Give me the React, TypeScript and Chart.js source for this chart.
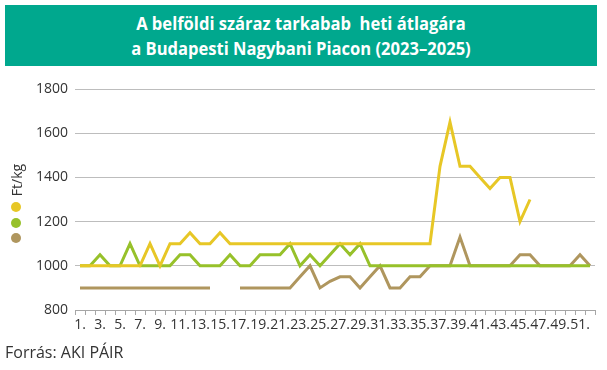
import React, { useEffect, useRef } from "react";
import { Chart, registerables } from "chart.js";

Chart.register(...registerables);

const weeks = [
  "1.", "2.", "3.", "4.", "5.", "6.", "7.", "8.", "9.", "10.",
  "11.", "12.", "13.", "14.", "15.", "16.", "17.", "18.", "19.", "20.",
  "21.", "22.", "23.", "24.", "25.", "26.", "27.", "28.", "29.", "30.",
  "31.", "32.", "33.", "34.", "35.", "36.", "37.", "38.", "39.", "40.",
  "41.", "42.", "43.", "44.", "45.", "46.", "47.", "48.", "49.", "50.",
  "51.", "52.",
];

const yellowSeries: (number | null)[] = [
  1000, 1000, 1000, 1000, 1000, 1000, 1000, 1100, 1000, 1100,
  1100, 1150, 1100, 1100, 1150, 1100, 1100, 1100, 1100, 1100,
  1100, 1100, 1100, 1100, 1100, 1100, 1100, 1100, 1100, 1100,
  1100, 1100, 1100, 1100, 1100, 1100, 1450, 1650, 1450, 1450,
  1400, 1350, 1400, 1400, 1200, 1300, null, null, null, null,
  null, null,
];

const greenSeries: (number | null)[] = [
  1000, 1000, 1050, 1000, 1000, 1100, 1000, 1000, 1000, 1000,
  1050, 1050, 1000, 1000, 1000, 1050, 1000, 1000, 1050, 1050,
  1050, 1100, 1000, 1050, 1000, 1050, 1100, 1050, 1100, 1000,
  1000, 1000, 1000, 1000, 1000, 1000, 1000, 1000, 1000, 1000,
  1000, 1000, 1000, 1000, 1000, 1000, 1000, 1000, 1000, 1000,
  1000, 1000,
];

const brownSeries: (number | null)[] = [
  900, 900, 900, 900, 900, 900, 900, 900, 900, 900,
  900, 900, 900, 900, null, null, 900, 900, 900, 900,
  900, 900, 950, 1000, 900, 930, 950, 950, 900, 950,
  1000, 900, 900, 950, 950, 1000, 1000, 1000, 1130, 1000,
  1000, 1000, 1000, 1000, 1050, 1050, 1000, 1000, 1000, 1000,
  1050, 1000,
];

const yTicks = { min: 800, max: 1800, step: 200 };

const titleLines = [
  "A belföldi száraz tarkabab  heti átlagára",
  "a Budapesti Nagybani Piacon (2023–2025)",
];
const unitLabel = "Ft/kg";
const sourceText = "Forrás: AKI PÁIR";

const YELLOW = "#E7C726";
const GREEN = "#97C12A";
const BROWN = "#AF965E";
const TEAL = "#00A88E";
const FONT = "'Open Sans', 'DejaVu Sans', sans-serif";

export default function App() {
  const ref = useRef<HTMLCanvasElement | null>(null);

  useEffect(() => {
    if (!ref.current) return;
    const chart = new Chart(ref.current, {
      type: "line",
      data: {
        labels: weeks,
        datasets: [
          { label: "A", data: yellowSeries, borderColor: YELLOW, backgroundColor: YELLOW, borderWidth: 3, pointRadius: 0, spanGaps: false },
          { label: "B", data: greenSeries, borderColor: GREEN, backgroundColor: GREEN, borderWidth: 3, pointRadius: 0, spanGaps: false },
          { label: "C", data: brownSeries, borderColor: BROWN, backgroundColor: BROWN, borderWidth: 3, pointRadius: 0, spanGaps: false },
        ],
      },
      options: {
        animation: false,
        responsive: false,
        maintainAspectRatio: false,
        layout: { padding: { left: 0, top: 89, right: 12, bottom: 30 } },
        plugins: { legend: { display: false }, tooltip: { enabled: false }, title: { display: false } },
        scales: {
          x: {
            offset: true,
            afterFit: (s: any) => { s.height = 30; },
            grid: { offset: true, drawOnChartArea: false, drawTicks: true, tickLength: 5, color: "#A6A6A6" },
            border: { display: true, color: "#A6A6A6", width: 1 },
            ticks: {
              autoSkip: false,
              maxRotation: 0,
              minRotation: 0,
              padding: 2,
              color: "#333333",
              font: { family: FONT, size: 14 },
              callback: (_v: any, i: number) => (i % 2 === 0 ? weeks[i] : ""),
            },
          },
          y: {
            min: yTicks.min,
            max: yTicks.max,
            afterFit: (s: any) => { s.width = 75; },
            grid: { drawTicks: false, color: "#BDBDBD", lineWidth: 1 },
            border: { display: false },
            ticks: {
              stepSize: yTicks.step,
              padding: 7,
              color: "#333333",
              font: { family: FONT, size: 14 },
              callback: (v: any) => String(v),
            },
          },
        },
      },
    });
    return () => chart.destroy();
  }, []);

  return (
    <div style={{ position: "fixed", left: 0, top: 0, width: 607, height: 370, background: "#fff", fontFamily: FONT }}>
      <div
        style={{
          position: "absolute", left: 5, top: 5, width: 592, height: 61, background: TEAL,
          color: "#fff", fontWeight: 700, fontSize: 18, lineHeight: "25px", textAlign: "center",
          display: "flex", flexDirection: "column", justifyContent: "center", whiteSpace: "pre",
        }}
      >
        {titleLines.map((t, i) => (
          <div key={i} style={{ transform: "scaleX(0.92)" }}>{t}</div>
        ))}
      </div>
      <canvas ref={ref} width={607} height={370} style={{ position: "absolute", left: 0, top: 0 }} />
      <div style={{ position: "absolute", left: 16, top: 180, transform: "translate(-50%, -50%) rotate(-90deg)", fontSize: 14, color: "#333", whiteSpace: "nowrap" }}>
        {unitLabel}
      </div>
      {[YELLOW, GREEN, BROWN].map((c, i) => (
        <div key={i} style={{ position: "absolute", left: 11, top: 202 + i * 15.5, width: 10, height: 10, borderRadius: 5, background: c }} />
      ))}
      <div style={{ position: "absolute", left: 5, top: 341, fontSize: 16, color: "#333", whiteSpace: "nowrap" }}>
        {sourceText}
      </div>
    </div>
  );
}
